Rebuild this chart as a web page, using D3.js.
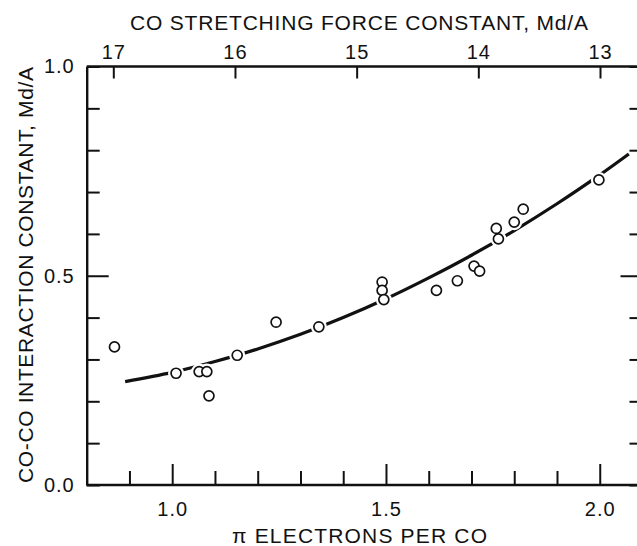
<!DOCTYPE html>
<html>
<head>
<meta charset="utf-8">
<script src="https://cdn.jsdelivr.net/npm/d3@7/dist/d3.min.js"></script>
<style>
  body { margin: 0; background: #fff; }
  text { font-family: "Liberation Sans", Arial, sans-serif; fill: #111; }
</style>
</head>
<body>
<svg id="chart" width="637" height="546"></svg>
<script>
// measured points: pi electrons per CO vs CO-CO interaction constant (Md/A)
var piElectrons = [0.865, 1.009, 1.063, 1.081, 1.086, 1.152, 1.243, 1.343, 1.491, 1.491,
                   1.495, 1.618, 1.667, 1.706, 1.719, 1.758, 1.763, 1.800, 1.821, 1.998];
var interaction = [0.330, 0.267, 0.271, 0.271, 0.213, 0.310, 0.389, 0.378, 0.485, 0.465,
                   0.443, 0.465, 0.488, 0.523, 0.511, 0.613, 0.588, 0.628, 0.659, 0.729];

// smooth curve drawn through the data
var curveX = [0.89, 1.0, 1.1, 1.2, 1.3, 1.4, 1.5, 1.6, 1.7, 1.8, 1.9, 2.0, 2.068];
var curveY = [0.247, 0.269, 0.295, 0.325, 0.360, 0.400, 0.445, 0.495, 0.549, 0.608, 0.672, 0.741, 0.791];

// axis ticks
var xTicks = [0.9, 1.0, 1.1, 1.2, 1.3, 1.4, 1.5, 1.6, 1.7, 1.8, 1.9, 2.0];
var xLabels = [1.0, 1.5, 2.0];
var yTicks = [0.0, 0.1, 0.2, 0.3, 0.4, 0.5, 0.6, 0.7, 0.8, 0.9, 1.0];
var yLabels = [0.0, 0.5, 1.0];
var forceTicks = [17, 16, 15, 14, 13];

var svg = d3.select('#chart');

var x = d3.scaleLinear().domain([0.8, 2.1]).range([86.7, 642.5]);
var y = d3.scaleLinear().domain([0, 1]).range([485, 66.5]);
var k = d3.scaleLinear().domain([17, 13]).range([113.3, 600]);

function isIn(list, v) {
  return list.some(function(l) { return Math.abs(l - v) < 1e-6; });
}

function styleAxis(g, size) {
  g.attr('font-size', size).attr('font-family', null);
  g.select('.domain').style('stroke', '#111').style('stroke-width', 2.4);
  g.selectAll('.tick line').style('stroke', '#111').style('stroke-width', 2);
  g.selectAll('.tick text').style('fill', '#111').attr('letter-spacing', 1);
}

// bottom axis, ticks pointing in
var bottomAxis = svg.append('g')
  .attr('transform', 'translate(0,485)')
  .call(d3.axisBottom(x).tickValues(xTicks).tickSizeInner(-14).tickSizeOuter(0).tickPadding(17)
    .tickFormat(function(d) { return isIn(xLabels, d) ? d3.format('.1f')(d) : ''; }));
bottomAxis.select('.domain').attr('d', 'M' + x(0.8) + ',0H' + x(2.1));
bottomAxis.selectAll('.tick line').attr('y2', function(d) { return isIn(xLabels, d) ? -21 : -14; });
styleAxis(bottomAxis, 20);

// left axis
var leftAxis = svg.append('g')
  .attr('transform', 'translate(' + x(0.8) + ',0)')
  .call(d3.axisLeft(y).tickValues(yTicks).tickSizeInner(-13).tickSizeOuter(0).tickPadding(12)
    .tickFormat(function(d) { return isIn(yLabels, d) ? d3.format('.1f')(d) : ''; }));
leftAxis.selectAll('.tick line').attr('x2', function(d) { return Math.abs(d - 0.5) < 1e-6 ? 22 : 13; });
styleAxis(leftAxis, 20);

// right axis (frame edge sits just past the page)
var rightAxis = svg.append('g')
  .attr('transform', 'translate(' + x(2.1) + ',0)')
  .call(d3.axisRight(y).tickValues(yTicks).tickSizeInner(-13).tickSizeOuter(0).tickFormat(''));
rightAxis.selectAll('.tick line').attr('x2', function(d) { return Math.abs(d - 0.5) < 1e-6 ? -22 : -13; });
styleAxis(rightAxis, 20);

// top axis: CO stretching force constant
var topAxis = svg.append('g')
  .attr('transform', 'translate(0,' + y(1) + ')')
  .call(d3.axisTop(k).tickValues(forceTicks).tickSizeInner(-12).tickSizeOuter(0).tickPadding(8)
    .tickFormat(d3.format('d')));
topAxis.select('.domain').attr('d', 'M' + x(0.8) + ',0H' + x(2.1));
styleAxis(topAxis, 20);

// fitted curve
var line = d3.line()
  .x(function(d) { return x(d[0]); })
  .y(function(d) { return y(d[1]); })
  .curve(d3.curveCatmullRom);

svg.append('path')
  .datum(d3.zip(curveX, curveY))
  .attr('d', line)
  .style('fill', 'none')
  .style('stroke', '#111')
  .style('stroke-width', 3.2);

// points: white halo first so the line breaks round each circle
var pts = d3.zip(piElectrons, interaction);
svg.append('g').selectAll('circle')
  .data(pts).enter().append('circle')
  .attr('cx', function(d) { return x(d[0]); })
  .attr('cy', function(d) { return y(d[1]); })
  .attr('r', 8)
  .style('fill', '#fff');

svg.append('g').selectAll('circle')
  .data(pts).enter().append('circle')
  .attr('cx', function(d) { return x(d[0]); })
  .attr('cy', function(d) { return y(d[1]); })
  .attr('r', 5)
  .style('fill', '#fff')
  .style('stroke', '#111')
  .style('stroke-width', 1.7);

// titles
svg.append('text')
  .attr('x', 359).attr('y', 30)
  .attr('text-anchor', 'middle')
  .attr('font-size', 21)
  .attr('textLength', 458).attr('lengthAdjust', 'spacing')
  .text('CO STRETCHING FORCE CONSTANT, Md/A');

svg.append('text')
  .attr('x', 359.5).attr('y', 543)
  .attr('text-anchor', 'middle')
  .attr('font-size', 21)
  .attr('textLength', 255).attr('lengthAdjust', 'spacing')
  .text('\u03c0 ELECTRONS PER CO');

svg.append('text')
  .attr('transform', 'translate(33,275) rotate(-90)')
  .attr('text-anchor', 'middle')
  .attr('font-size', 21)
  .attr('textLength', 416).attr('lengthAdjust', 'spacing')
  .text('CO-CO INTERACTION CONSTANT, Md/A');
</script>
</body>
</html>
